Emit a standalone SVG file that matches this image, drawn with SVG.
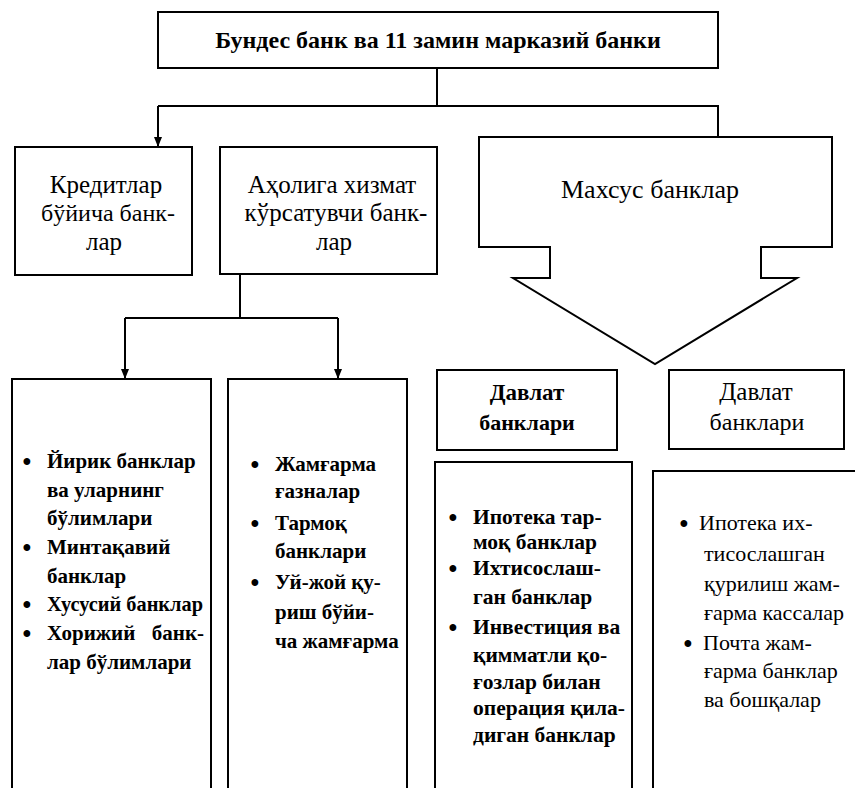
<svg xmlns="http://www.w3.org/2000/svg" width="855" height="788" viewBox="0 0 855 788">
<defs>
<style>
.box{fill:none;stroke:#000;stroke-width:2}
.ln{fill:none;stroke:#000;stroke-width:2}
.t{font-family:"Liberation Serif","Times New Roman",serif;fill:#000}
.b{font-weight:bold}
.c{text-anchor:middle}
.bu{font-size:25px;text-anchor:middle;font-weight:bold}
</style>
<marker id="ah" viewBox="0 0 10 10" refX="10" refY="5" markerWidth="10" markerHeight="10" markerUnits="userSpaceOnUse" orient="auto">
<path d="M0,1 L10,5 L0,9 Z" fill="#000"/>
</marker>
</defs>
<rect width="855" height="788" fill="#fff"/>

<g id="connectors">
<path class="ln" d="M437,68 V106"/>
<path class="ln" d="M158,106 H718 V137"/>
<path class="ln" d="M158,106 V147" marker-end="url(#ah)"/>
<path class="ln" d="M240,274 V318"/>
<path class="ln" d="M125,318 H338"/>
<path class="ln" d="M125,318 V379" marker-end="url(#ah)"/>
<path class="ln" d="M338,318 V379" marker-end="url(#ah)"/>
</g>

<g id="top">
<rect class="box" x="158" y="12" width="560" height="56"/>
<text class="t b c" x="438" y="48" font-size="24">Бундес банк ва 11 замин марказий банки</text>
</g>

<g id="credit">
<rect class="box" x="15" y="147" width="177" height="128"/>
<text class="t c" x="106" y="193" font-size="25">Кредитлар</text>
<text class="t c" x="108" y="221" font-size="24">бўйича банк-</text>
<text class="t c" x="104" y="250" font-size="25">лар</text>
</g>

<g id="service">
<rect class="box" x="220" y="147" width="217" height="127"/>
<text class="t c" x="332" y="193" font-size="25">Аҳолига хизмат</text>
<text class="t c" x="336" y="221" font-size="25">кўрсатувчи банк-</text>
<text class="t c" x="334" y="250" font-size="25">лар</text>
</g>

<g id="special">
<path class="box" d="M479,137 H832 V247 H761 V278 H797 L655,364 L513,278 H550 V247 H479 Z"/>
<text class="t c" x="650" y="198" font-size="26">Махсус банклар</text>
</g>

<g id="large">
<path class="box" d="M12,788 V379 H211 V788"/>
<g class="t b" font-size="21">
<text class="bu" x="27" y="470">•</text><text x="47" y="468">Йирик банклар</text>
<text x="47" y="497">ва уларнинг</text>
<text x="47" y="525">бўлимлари</text>
<text class="bu" x="27" y="556">•</text><text x="47" y="554">Минтақавий</text>
<text x="47" y="583">банклар</text>
<text class="bu" x="27" y="613">•</text><text x="47" y="611" textLength="156" lengthAdjust="spacingAndGlyphs">Хусусий банклар</text>
<text class="bu" x="27" y="642">•</text><text x="47" y="640">Хорижий</text><text x="204" y="640" text-anchor="end">банк-</text>
<text x="47" y="669">лар бўлимлари</text>
</g>
</g>

<g id="savings">
<path class="box" d="M228,788 V379 H407 V788"/>
<g class="t b" font-size="21">
<text class="bu" x="255" y="473">•</text><text x="275" y="471">Жамғарма</text>
<text x="275" y="498">ғазналар</text>
<text class="bu" x="255" y="532">•</text><text x="275" y="530">Тармоқ</text>
<text x="275" y="558">банклари</text>
<text class="bu" x="255" y="591">•</text><text x="275" y="589">Уй-жой қу-</text>
<text x="275" y="619">риш бўйи-</text>
<text x="275" y="648">ча жамғарма</text>
</g>
</g>

<g id="state1">
<rect class="box" x="437" y="370" width="180" height="80"/>
<text class="t b c" x="527" y="400" font-size="23">Давлат</text>
<text class="t b c" x="527" y="430" font-size="22">банклари</text>
</g>

<g id="state2">
<rect class="box" x="669" y="370" width="175" height="79"/>
<text class="t c" x="756" y="400" font-size="25">Давлат</text>
<text class="t c" x="757" y="430" font-size="24">банклари</text>
</g>

<g id="state1list">
<path class="box" d="M435,788 V462 H632 V788"/>
<g class="t b" font-size="21.5">
<text class="bu" x="453" y="526">•</text><text x="473" y="524">Ипотека тар-</text>
<text x="473" y="549">моқ банклар</text>
<text class="bu" x="453" y="577">•</text><text x="473" y="575">Ихтисослаш-</text>
<text x="473" y="604">ган банклар</text>
<text class="bu" x="453" y="636">•</text><text x="473" y="634">Инвестиция ва</text>
<text x="473" y="662">қимматли қо-</text>
<text x="473" y="689">ғозлар билан</text>
<text x="473" y="715">операция қила-</text>
<text x="473" y="742">диган банклар</text>
</g>
</g>

<g id="state2list">
<path class="box" d="M653,788 V471 H855"/>
<g class="t" font-size="22">
<text class="bu" x="684" y="532">•</text><text x="699" y="530">Ипотека их-</text>
<text x="704" y="561">тисослашган</text>
<text x="704" y="591">қурилиш жам-</text>
<text x="704" y="620">ғарма кассалар</text>
<text class="bu" x="688" y="652">•</text><text x="703" y="650">Почта жам-</text>
<text x="704" y="678">ғарма банклар</text>
<text x="704" y="707">ва бошқалар</text>
</g>
</g>
</svg>
